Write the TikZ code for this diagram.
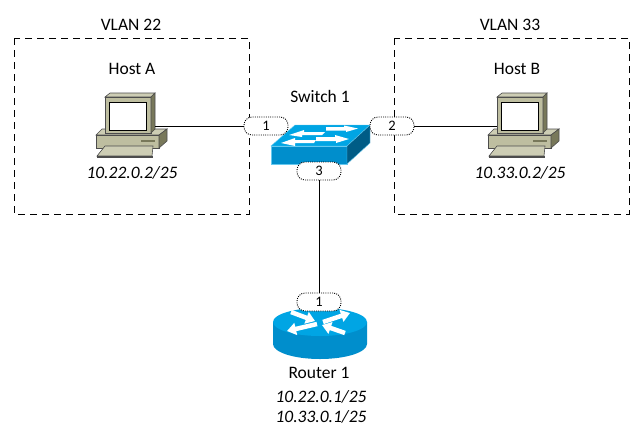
\documentclass[tikz,border=0pt]{standalone}
\usepackage{fontspec}
\setmainfont{Carlito}
\usepackage{xcolor}
\definecolor{hostfront}{RGB}{190,190,160}
\definecolor{hosttop}{RGB}{205,205,180}
\definecolor{hostside}{RGB}{120,120,90}
\definecolor{swtop}{RGB}{0,165,228}
\definecolor{swfront}{RGB}{0,142,204}
\definecolor{swside}{RGB}{0,92,134}
\usetikzlibrary{calc,arrows.meta}
\newcommand{\DrawHost}[1]{
\begin{scope}[shift={(#1)},draw=black!70,line width=.6pt]
	\filldraw[fill=hosttop] (-9,38) -- (-3,32) -- (62,32) -- (54,38) -- cycle;
	\filldraw[fill=hostfront] (-9,38) rectangle (54,51);
	\filldraw[fill=hostside] (54,38) -- (62,32) -- (62,44) -- (54,51) -- cycle;
	\draw[line width=1.2pt,hostside] (36,44) -- (50,44);
	\filldraw[fill=hosttop] (-8,59) -- (0,49) -- (48,49) -- (47,59) -- cycle;
	\filldraw[fill=hostside] (-8,59) rectangle (47,60);
	\filldraw[fill=hosttop] (0,0) -- (5,-4) -- (50,-4) -- (46,0) -- cycle;
	\filldraw[fill=hostfront] (0,0) rectangle (46,36);
	\filldraw[fill=hostside] (46,0) -- (50,-4) -- (50,32) -- (46,36) -- cycle;
	\filldraw[fill=white,draw=black,line width=.9pt] (4,5) rectangle (41,33);
\end{scope}}
\tikzset{
	vlanbox/.style={draw,dash pattern=on 7pt off 5pt,line width=.9pt},
	port/.style={draw,dash pattern=on 1pt off 1.2pt,line width=.9pt,rounded corners=8pt,fill=white,minimum width=44pt,minimum height=18pt,inner sep=0pt,font=\fontsize{14.5}{15}\selectfont},
	lbl/.style={inner sep=0pt,font=\fontsize{17.5}{18}\selectfont},
	addr/.style={lbl,font=\fontsize{17.5}{18}\selectfont\itshape},
	wht/.style={fill=white,draw=none},
	rtarrow/.style={draw=white,line width=4.5pt,-{Triangle[width=12pt,length=9pt]}}
}
\begin{document}
\begin{tikzpicture}[x=1pt,y=-1pt]
	\useasboundingbox (0,0) rectangle (644,432);
	\fill[white] (0,0) rectangle (644,432);
	%% VLAN boxes
	\draw[vlanbox] (14,38) rectangle (249,214);
	\draw[vlanbox] (394,38) rectangle (629,214);
	\node[lbl] (vlanA) at (131,25) {VLAN 22};
	\node[lbl] (vlanB) at (510,25) {VLAN 33};
	%% Hosts
	\DrawHost{105,97}
	\DrawHost{497,97}
	\node[lbl] (hostAname) at (132,69) {Host A};
	\node[lbl] (hostBname) at (517,69) {Host B};
	\node[addr] (hostAaddr) at (132,173) {10.22.0.2/25};
	\node[addr] (hostBaddr) at (520,173) {10.33.0.2/25};
	%% Switch
	\filldraw[fill=swtop,draw=swtop!60!white,line width=.4pt] (271,146) -- (347,146) -- (370,125) -- (295,125) -- cycle;
	\filldraw[fill=swfront,draw=swtop!60!white,line width=.4pt] (271,146) rectangle (347,164);
	\filldraw[fill=swside,draw=swtop!60!white,line width=.4pt] (347,146) -- (370,125) -- (370,143) -- (347,164) -- cycle;
	\fill[wht] (326,127) -- (344,127) -- (344,125.5) -- (358,128.5) -- (346,132) -- (346,130.5) -- (326,130.5) -- cycle;
	\fill[wht] (289,135) -- (304,130) -- (304,132) -- (325,132) -- (322,135) -- (302,135) -- (302,137) -- cycle;
	\fill[wht] (316,137) -- (335,137) -- (335,135) -- (349,139) -- (336,143) -- (336,141) -- (316,141) -- cycle;
	\fill[wht] (281,143) -- (295,138) -- (295,140) -- (316,140) -- (314,143) -- (295,143) -- (295,146) -- cycle;
	\node[lbl] (swname) at (320,96) {Switch 1};
	%% Router
	\coordinate (rtc) at (320,322);
	\fill[swfront] (273,322) -- (273,344) arc[start angle=180,end angle=0,x radius=47,y radius=15] -- (367,322) -- cycle;
	\fill[swtop] (rtc) ellipse[x radius=47,y radius=14];
	\draw[rtarrow] (291,312) -- (315,321);
	\draw[rtarrow] (323,322) -- (350,313);
	\draw[rtarrow] (317,324) -- (287,331);
	\draw[rtarrow] (345,333) -- (322,325);
	\node[lbl] (rtname) at (319,373) {Router 1};
	\node[addr] (rtaddrA) at (321,397) {10.22.0.1/25};
	\node[addr] (rtaddrB) at (321,417) {10.33.0.1/25};
	%% Links and ports
	\coordinate (hostAport) at (155,126);
	\coordinate (hostBport) at (497,126);
	\node[port] (p1) at (266,126) {1};
	\node[port] (p2) at (392,126) {2};
	\node[port] (p3) at (319,171) {3};
	\node[port] (p4) at (319,302) {1};
	\draw (hostAport) -- (p1.west);
	\draw (p2.east) -- (hostBport);
	\draw (p3.south) -- (p4.north);
\end{tikzpicture}
\end{document}
